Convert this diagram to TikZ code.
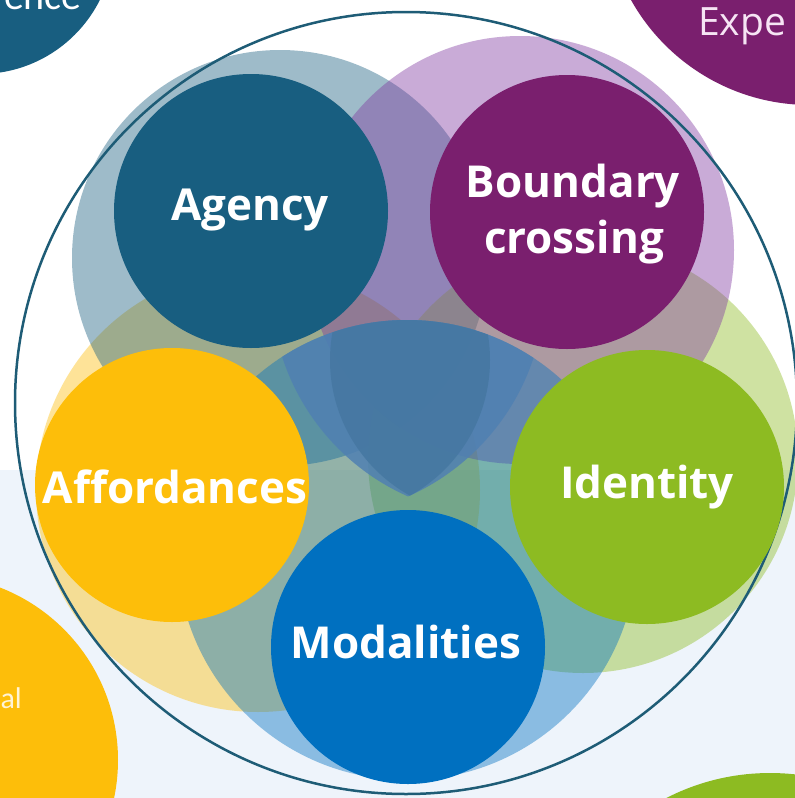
\documentclass[tikz,border=0pt]{standalone}
\usepackage{fontspec}
\setmainfont{Open Sans}
\newfontfamily\carl{Carlito}
\definecolor{cagency}{RGB}{24,94,128}
\definecolor{cpurple}{RGB}{122,31,110}
\definecolor{cpurplelt}{RGB}{128,56,160}
\definecolor{cyellow}{RGB}{253,190,10}
\definecolor{cgreen}{RGB}{141,187,34}
\definecolor{cblue}{RGB}{0,112,192}
\definecolor{cblob}{RGB}{80,128,178}
\definecolor{cinner}{RGB}{70,120,162}
\definecolor{cring}{RGB}{30,92,118}
\definecolor{cbg}{RGB}{238,244,251}
\tikzset{
  solidc/.style={circle, inner sep=0pt, minimum size=274pt},
  label/.style={font=\fontsize{44}{48}\selectfont\bfseries, text=white, anchor=base, inner sep=0pt},
  cornertxt/.style={inner sep=0pt, anchor=base},
  lite/.style={opacity=0.42}
}
\begin{document}
\begin{tikzpicture}[x=1pt,y=-1pt]
\useasboundingbox (0,0) rectangle (795,798);
\clip (0,0) rectangle (795,798);
% background
\fill[white] (0,0) rectangle (795,470);
\fill[cbg] (0,470) rectangle (795,798);
% light circles
\fill[cyellow, lite] (258,490) circle (222pt);
\fill[cagency, lite] (280,258) circle (208pt);
\fill[cgreen, lite] (583,458) circle (215pt);
\fill[cpurplelt, lite] (520,250) circle (214pt);
\fill[cblue, lite] (407,550) circle (230pt);
% central blob
\begin{scope}
  \clip (407,550) circle (230pt);
  \clip (501,286) circle (230pt);
  \clip (315,286) circle (230pt);
  \fill[cblob, opacity=0.85] (407,410) circle (200pt);
  \clip (485,360) circle (155pt);
  \clip (335,360) circle (155pt);
  \fill[cinner, opacity=0.9] (407,410) circle (200pt);
\end{scope}
% outer ring
\node[circle, draw=cring, line width=2.5pt, minimum size=782pt, inner sep=0pt] (ring) at (406,403) {};
% solid circles
\node[solidc, fill=cagency] (agency) at (251,211) {};
\node[solidc, fill=cpurple] (boundary) at (567,212) {};
\node[solidc, fill=cyellow] (afford) at (172,485) {};
\node[solidc, fill=cgreen] (identity) at (647,487) {};
\node[solidc, fill=cblue] (modal) at (408,647) {};
% labels
\node[label] (tagency) at (250,220) {Agency};
\node[label] (tbound1) at (573,197) {Boundary};
\node[label] (tbound2) at (574,253) {crossing};
\node[label] (tafford) at (175,503) {Affordances};
\node[label] (tident) at (647,498) {Identity};
\node[label] (tmodal) at (406,658) {Modalities};
% corner circles
\node[circle, fill=cagency, inner sep=0pt, minimum size=268pt] (tl) at (-20,-60) {};
\node[circle, fill=cpurple, inner sep=0pt, minimum size=410pt] (tr) at (810,-100) {};
\node[circle, fill=cyellow, inner sep=0pt, minimum size=370pt] (bl) at (-67,760) {};
\node[circle, fill=cgreen, inner sep=0pt, minimum size=454pt] (br) at (770,1000) {};
\node[cornertxt, anchor=base east, text=white, font=\carl\fontsize{40}{44}\selectfont] (ttl) at (82,9) {ence};
\node[cornertxt, anchor=base west, text={rgb,255:red,246;green,228;blue,244}, font=\fontsize{39}{44}\selectfont] (ttr) at (698,35) {Expe};
\node[cornertxt, anchor=base east, text={rgb,255:red,255;green,244;blue,214}, font=\carl\fontsize{30}{34}\selectfont] (tbl) at (22,708) {al};
\end{tikzpicture}
\end{document}
